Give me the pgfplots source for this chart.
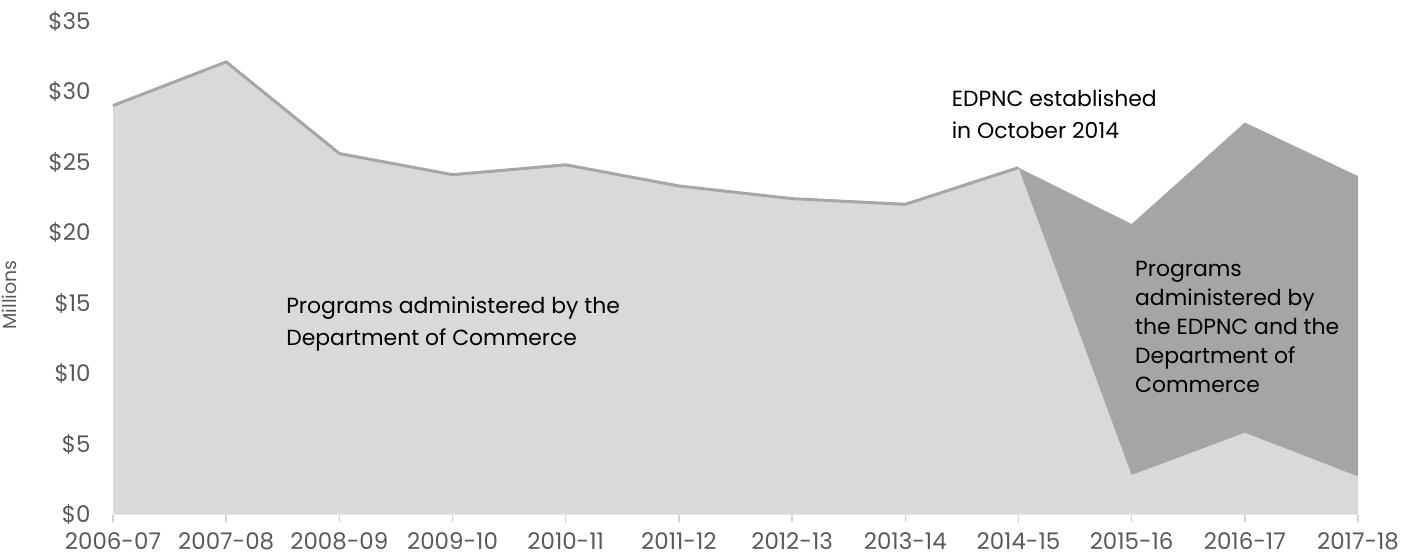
\documentclass[border=0pt]{standalone}
\usepackage{fontspec}
\setmainfont{Poppins}
\usepackage{pgfplots}
\pgfplotsset{compat=1.18}
\definecolor{lightg}{HTML}{D9D9D9}
\definecolor{darkg}{HTML}{A5A5A5}
\definecolor{lineg}{HTML}{A6A6A6}
\definecolor{tickg}{HTML}{595959}
\begin{document}
\begin{tikzpicture}
\path[use as bounding box] (-113bp,-41.5bp) rectangle (1310bp,514.5bp);
\begin{axis}[
  at={(0,0)}, anchor=south west,
  scale only axis, width=1245bp, height=493.5bp,
  xmin=0, xmax=11, ymin=0, ymax=35,
  axis x line*=bottom, axis y line*=left,
  x axis line style={draw=none},
  y axis line style={draw=none},
  xtick={0,...,11},
  xticklabels={2006-07,2007-08,2008-09,2009-10,2010-11,2011-12,2012-13,2013-14,2014-15,2015-16,2016-17,2017-18},
  ytick={0,5,...,35},
  yticklabels={\$0,\$5,\$10,\$15,\$20,\$25,\$30,\$35},
  xtick style={draw=black!18, line width=1.5bp},
  major tick length=7bp,
  tick align=outside,
  ytick style={draw=none},
  ticklabel style={font=\fontsize{23}{27}\selectfont, text=tickg},
  xticklabel style={yshift=-8bp},
  yticklabel style={xshift=-12bp},
  clip=false,
]
\addplot[draw=none, fill=lightg] coordinates {
(0,29.0) (1,32.1) (2,25.6) (3,24.1) (4,24.8) (5,23.3) (6,22.4) (7,22.0) (8,24.6) (9,2.8) (10,5.8) (11,2.7)} \closedcycle;
\addplot[draw=none, fill=darkg] coordinates {
(8,24.6) (9,20.6) (10,27.8) (11,24.0) (11,2.7) (10,5.8) (9,2.8)} -- cycle;
\addplot[draw=lineg, line width=3bp] coordinates {
(0,29.0) (1,32.1) (2,25.6) (3,24.1) (4,24.8) (5,23.3) (6,22.4) (7,22.0) (8,24.6)};
\node[anchor=west, align=left, font=\fontsize{22}{32}\selectfont] at (axis cs:1.50,13.5) {Programs administered by the\\Department of Commerce};
\node[anchor=west, align=left, font=\fontsize{22}{32}\selectfont] at (axis cs:7.38,28.4) {EDPNC established\\in October 2014};
\node[anchor=west, align=left, font=\fontsize{22}{29}\selectfont] at (axis cs:9.00,13.3) {Programs\\administered by\\the EDPNC and the\\Department of\\Commerce};
\end{axis}
\node[rotate=90, font=\fontsize{19}{23}\selectfont, text=tickg] at (-104bp,219.5bp) {Millions};
\end{tikzpicture}
\end{document}
